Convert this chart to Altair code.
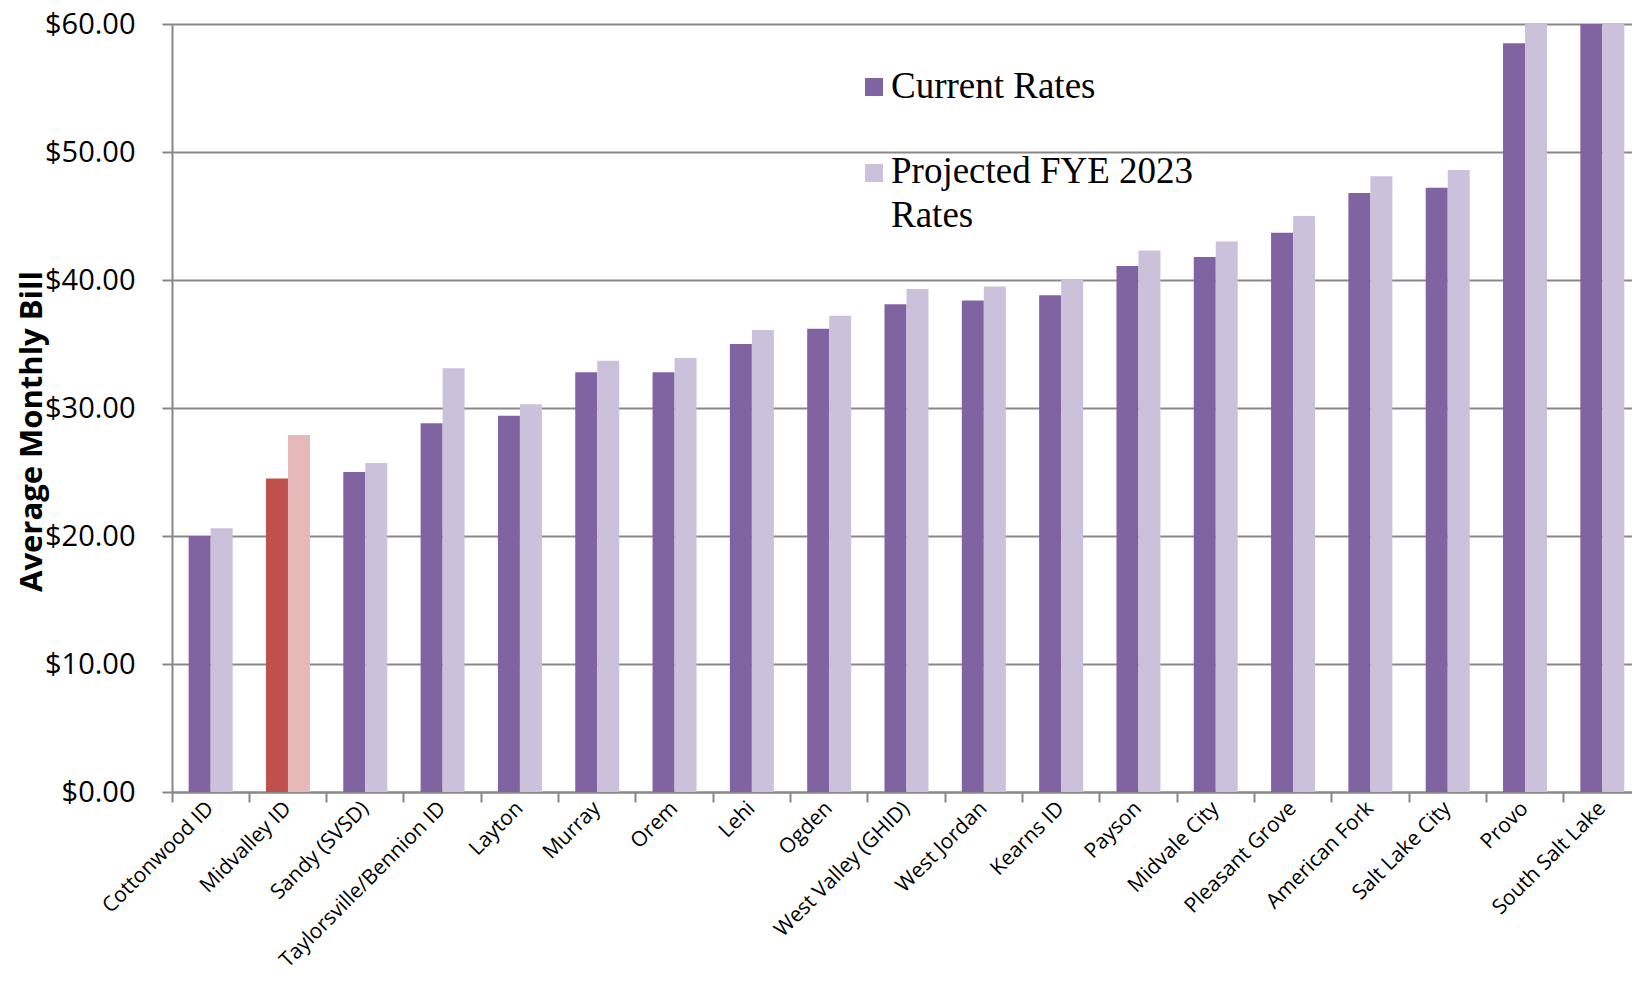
import altair as alt
import pandas as pd

cities = ["Cottonwood ID", "Midvalley ID", "Sandy (SVSD)", "Taylorsville/Bennion ID", "Layton",
          "Murray", "Orem", "Lehi", "Ogden", "West Valley (GHID)", "West Jordan", "Kearns ID",
          "Payson", "Midvale City", "Pleasant Grove", "American Fork", "Salt Lake City", "Provo",
          "South Salt Lake"]
current = [20.0, 24.5, 25.0, 28.8, 29.4, 32.8, 32.8, 35.0, 36.2, 38.1, 38.4, 38.8,
           41.1, 41.8, 43.7, 46.8, 47.2, 58.5, 61.0]
projected = [20.6, 27.9, 25.7, 33.1, 30.3, 33.7, 33.9, 36.1, 37.2, 39.3, 39.5, 40.0,
             42.3, 43.0, 45.0, 48.1, 48.6, 61.5, 62.5]
series = ["Current Rates", "Projected FYE 2023 Rates"]
highlight = "Midvalley ID"

rows = []
for c, cur, proj in zip(cities, current, projected):
    for s, v in zip(series, [cur, proj]):
        key = ("Midvalley " if c == highlight else "") + s
        rows.append({"city": c, "series": s, "value": v, "key": key})
df = pd.DataFrame(rows)

key_domain = series + ["Midvalley " + s for s in series]
key_range = ["#8064A2", "#CCC1DA", "#C0504D", "#E6B9B8"]

W, H = 1469, 768
grid_col = "#878787"

x_scale = alt.Scale(paddingInner=0, paddingOuter=0, round=False)

bars = alt.Chart(df).mark_bar(clip=True).encode(
    x=alt.X("city:N", sort=cities, scale=x_scale, title=None,
            axis=alt.Axis(orient="bottom", labelAngle=-45, labelAlign="right", labelBaseline="middle",
                          labelFont="Open Sans", labelFontSize=21, labelColor="black",
                          labelPadding=13, ticks=False, domain=True, domainColor=grid_col,
                          domainWidth=2, labelOverlap=False, labelLimit=400)),
    xOffset=alt.XOffset("series:N", sort=series,
                        scale=alt.Scale(paddingInner=0, paddingOuter=0.757, round=False)),
    y=alt.Y("value:Q", scale=alt.Scale(domain=[0, 60], nice=False, zero=True),
            title="Average Monthly Bill",
            axis=alt.Axis(values=[0, 10, 20, 30, 40, 50, 60], format="$.2f",
                          labelFont="Open Sans", labelFontSize=29, labelColor="black",
                          labelPadding=27, tickSize=10, tickColor=grid_col, tickWidth=2,
                          domainColor=grid_col, domainWidth=2,
                          grid=True, gridColor=grid_col, gridWidth=2,
                          titleFont="Open Sans", titleFontWeight="bold", titleFontSize=31,
                          titleColor="black", titleX=-140, titleY=407, titleAngle=-90,
                          titleAlign="center", titleBaseline="middle")),
    color=alt.Color("key:N", scale=alt.Scale(domain=key_domain, range=key_range), legend=None),
)

# tick marks at category boundaries
ticks = alt.Chart(pd.DataFrame({"city": cities})).mark_tick(opacity=0).encode(
    x=alt.X("city:N", sort=cities, scale=x_scale, title=None,
            axis=alt.Axis(orient="bottom", bandPosition=0, labels=False, ticks=True, tickSize=10,
                          tickColor=grid_col, tickWidth=2, domain=False, grid=False)),
)

legend_layers = []
legend_pos = [(63, 74), (149, 159)]
for (sy, ty), s, col in zip(legend_pos, series, key_range[:2]):
    sq = alt.Chart(pd.DataFrame({"series": [s]})).mark_square(size=324, opacity=1, color=col).encode(
        x=alt.value(702), y=alt.value(sy))
    lines = ["Projected FYE 2023", "Rates"] if s == series[1] else s
    tx = alt.Chart(pd.DataFrame({"series": [s]})).mark_text(
        align="left", baseline="alphabetic", font="Liberation Serif", fontSize=37,
        lineHeight=44, color="black", text=lines).encode(
        x=alt.value(719), y=alt.value(ty))
    legend_layers += [sq, tx]

chart = alt.layer(bars, ticks, *legend_layers).resolve_axis(x="independent").properties(
    width=W, height=H,
    autosize=alt.AutoSizeParams(type="none"),
    padding={"left": 164, "top": 16, "right": -9, "bottom": 178},
).configure_view(stroke=None).configure(background="white")

chart.save("out.html", embed_options={"renderer": "svg", "actions": False})
